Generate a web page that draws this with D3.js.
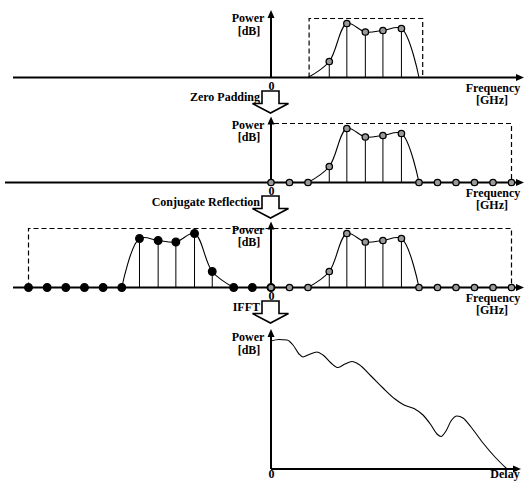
<!DOCTYPE html>
<html>
<head>
<meta charset="utf-8">
<script src="https://cdn.jsdelivr.net/npm/d3@7"></script>
<style>
  html, body { margin: 0; padding: 0; background: #fff; }
  svg { display: block; }
  text { font-family: "Liberation Serif", "Times New Roman", serif; font-weight: bold; font-size: 12px; fill: #000; }
</style>
</head>
<body>
<svg id="chart" width="525" height="482"></svg>
<script>
// ---------------- data ----------------
// frequency sample positions (sample index units) and measured power (arbitrary dB units)
const freq  = [0, 1, 2, 3.15, 4.1, 5.1, 6.05, 7.05, 8, 9, 10, 11, 12, 13];
const power = [0, 0, 0, 16, 54, 45.5, 47, 49, 0, 0, 0, 0, 0, 0];
const bandStart = 2, bandEnd = 8;          // indices delimiting the measured band
const bandBox = [2.06, 8.2];               // dashed box around measured band (freq units)
const boxLevel = 59;                       // dashed window level (power units)
// IFFT result: delay vs power
const delay    = [0, 8, 16, 22, 28, 32, 38, 46, 52, 60, 67, 74, 81, 88, 100, 112, 124, 133, 143, 152, 160, 166, 170, 175, 180, 186, 192, 200, 212, 224, 236];
const response = [128, 129.5, 129, 124, 115, 112, 114.5, 117, 114, 106, 101.5, 105, 107.5, 104.5, 93, 81, 70, 64, 60.5, 54, 44, 35, 32.5, 38, 48, 53, 51, 42, 26, 12, 0];
// text labels
const stepLabels = ["Zero Padding", "Conjugate Reflection", "IFFT"];
const yLabel = ["Power", "[dB]"];
const xLabelFreq = ["Frequency", "[GHz]"];
const xLabelDelay = "Delay";
const zeroTick = [0];

// ---------------- layout ----------------
const svg = d3.select("#chart");
const baselines = [77.5, 182.5, 287.5, 469];
const fx = d3.scaleLinear().domain([-13, 0, 13]).range([28.5, 271, 511.5]);
const x0 = fx(0);
const yScale = b => d3.scaleLinear().domain([0, 60]).range([b, b - 60]);

function arrowHeadRight(g, x, y) {
  g.append("path").attr("d", `M${x},${y} l-8,-3.5 l0,7 z`).attr("fill", "#000");
}
function arrowHeadUp(g, x, y) {
  g.append("path").attr("d", `M${x},${y} l-3.5,8 l7,0 z`).attr("fill", "#000");
}

function axes(g, base, top, left, right, pad) {
  g.append("line").attr("x1", left).attr("x2", right - 4).attr("y1", base).attr("y2", base)
    .attr("stroke", "#000").attr("stroke-width", 2);
  arrowHeadRight(g, right, base);
  g.append("line").attr("x1", x0).attr("x2", x0).attr("y1", base).attr("y2", top + 4)
    .attr("stroke", "#000").attr("stroke-width", 2);
  arrowHeadUp(g, x0, top);
  // "0" tick label via d3 axis
  const ax = d3.axisBottom(d3.scaleLinear().domain([0, 1]).range([x0, x0 + 1]))
    .tickValues(zeroTick).tickSize(0).tickPadding(pad).tickFormat(d3.format("d"));
  const a = g.append("g").attr("transform", `translate(0,${base})`).call(ax);
  a.select(".domain").remove();
  a.selectAll("text").attr("font-family", null).attr("font-size", null).style("font-weight", "bold");
  // Power [dB] label
  const t = g.append("text").attr("text-anchor", "middle").attr("x", x0 - 23).attr("y", top + 12);
  t.append("tspan").attr("x", x0 - 23).attr("dy", 0).text(yLabel[0]);
  t.append("tspan").attr("x", x0 - 22).attr("dy", 12.5).text(yLabel[1]);
}

function freqLabel(g, base) {
  const t = g.append("text").attr("text-anchor", "middle").attr("y", base + 14);
  t.append("tspan").attr("x", 493).attr("dy", 0).text(xLabelFreq[0]);
  t.append("tspan").attr("x", 492).attr("dy", 12.5).text(xLabelFreq[1]);
}

function spectrum(g, y, sign, opts) {
  const pts = freq.map((f, i) => ({ f: sign * f, p: power[i], i }));
  const band = pts.filter(d => d.i >= bandStart && d.i <= bandEnd).sort((a, b) => a.f - b.f);
  const line = d3.line().x(d => fx(d.f)).y(d => y(d.p)).curve(d3.curveCatmullRom.alpha(0.5));
  g.append("path").attr("d", line(band)).attr("fill", "none").attr("stroke", "#000").attr("stroke-width", 1.1);
  const sig = pts.filter(d => d.p > 0);
  g.selectAll(null).data(sig).enter().append("line")
    .attr("x1", d => fx(d.f)).attr("x2", d => fx(d.f))
    .attr("y1", d => y(d.p)).attr("y2", y(0))
    .attr("stroke", "#000").attr("stroke-width", 1);
  const marks = opts.onlySignal ? sig : pts;
  g.selectAll(null).data(marks).enter().append("circle")
    .attr("cx", d => fx(d.f)).attr("cy", d => y(d.p))
    .attr("r", opts.filled ? 3.8 : 3.2)
    .attr("fill", opts.filled ? "#000" : "#9a9a9a")
    .attr("stroke", "#000").attr("stroke-width", 1.3);
}

function blockArrow(base, label) {
  const top = base + 13.5, head = top + 12.5, tip = top + 22;
  const cx = x0 - 0.5, sw = 8.5, hw = 18;
  svg.append("path")
    .attr("d", `M${cx - sw},${top} L${cx + sw},${top} L${cx + sw},${head} L${cx + hw},${head} L${cx},${tip} L${cx - hw},${head} L${cx - sw},${head} Z`)
    .attr("fill", "#fff").attr("stroke", "#000").attr("stroke-width", 1.6).attr("stroke-linejoin", "miter");
  svg.append("text").attr("text-anchor", "end").attr("x", cx - sw - 2).attr("y", top + 10).text(label);
}

const dash = "5,3";

// ---- Panel 1: measured band ----
{
  const base = baselines[0], y = yScale(base);
  const g = svg.append("g");
  g.append("path")
    .attr("d", d3.line()([[fx(bandBox[0]), y(0)], [fx(bandBox[0]), y(boxLevel)], [fx(bandBox[1]), y(boxLevel)], [fx(bandBox[1]), y(0)]]))
    .attr("fill", "none").attr("stroke", "#000").attr("stroke-width", 1.2).attr("stroke-dasharray", dash);
  spectrum(g, y, 1, { onlySignal: true, filled: false });
  axes(g, base, base - 67.5, 13, 524, 3.5);
  freqLabel(g, base);
}

// ---- Panel 2: zero padding ----
{
  const base = baselines[1], y = yScale(base);
  const g = svg.append("g");
  g.append("path")
    .attr("d", d3.line()([[fx(0) + 3, y(boxLevel)], [fx(13), y(boxLevel)], [fx(13), y(0)]]))
    .attr("fill", "none").attr("stroke", "#000").attr("stroke-width", 1.2).attr("stroke-dasharray", dash);
  axes(g, base, base - 66, 5, 524, 3.5);
  spectrum(g, y, 1, { onlySignal: false, filled: false });
  freqLabel(g, base);
}

// ---- Panel 3: conjugate reflection ----
{
  const base = baselines[2], y = yScale(base);
  const g = svg.append("g");
  g.append("path")
    .attr("d", d3.line()([[fx(-13), y(0)], [fx(-13), y(boxLevel)], [fx(13), y(boxLevel)], [fx(13), y(0)]]))
    .attr("fill", "none").attr("stroke", "#000").attr("stroke-width", 1.2).attr("stroke-dasharray", dash);
  axes(g, base, base - 66, 13, 524, 3.5);
  spectrum(g, y, -1, { onlySignal: false, filled: true });
  spectrum(g, y, 1, { onlySignal: false, filled: false });
  freqLabel(g, base);
}

// ---- Panel 4: IFFT ----
{
  const base = baselines[3];
  const dx = d3.scaleLinear().domain([0, 250]).range([x0, x0 + 250]);
  const dy = d3.scaleLinear().domain([0, 140]).range([base, base - 140]);
  const g = svg.append("g");
  axes(g, base, base - 140, x0, 521, 0);
  g.append("path")
    .attr("d", d3.line().x((d, i) => dx(delay[i])).y(d => dy(d)).curve(d3.curveMonotoneX)(response))
    .attr("fill", "none").attr("stroke", "#000").attr("stroke-width", 1.1);
  g.append("text").attr("text-anchor", "middle").attr("x", 505).attr("y", base + 9).text(xLabelDelay);
}

// ---- process arrows ----
stepLabels.forEach((lab, i) => blockArrow(baselines[i], lab));
</script>
</body>
</html>
